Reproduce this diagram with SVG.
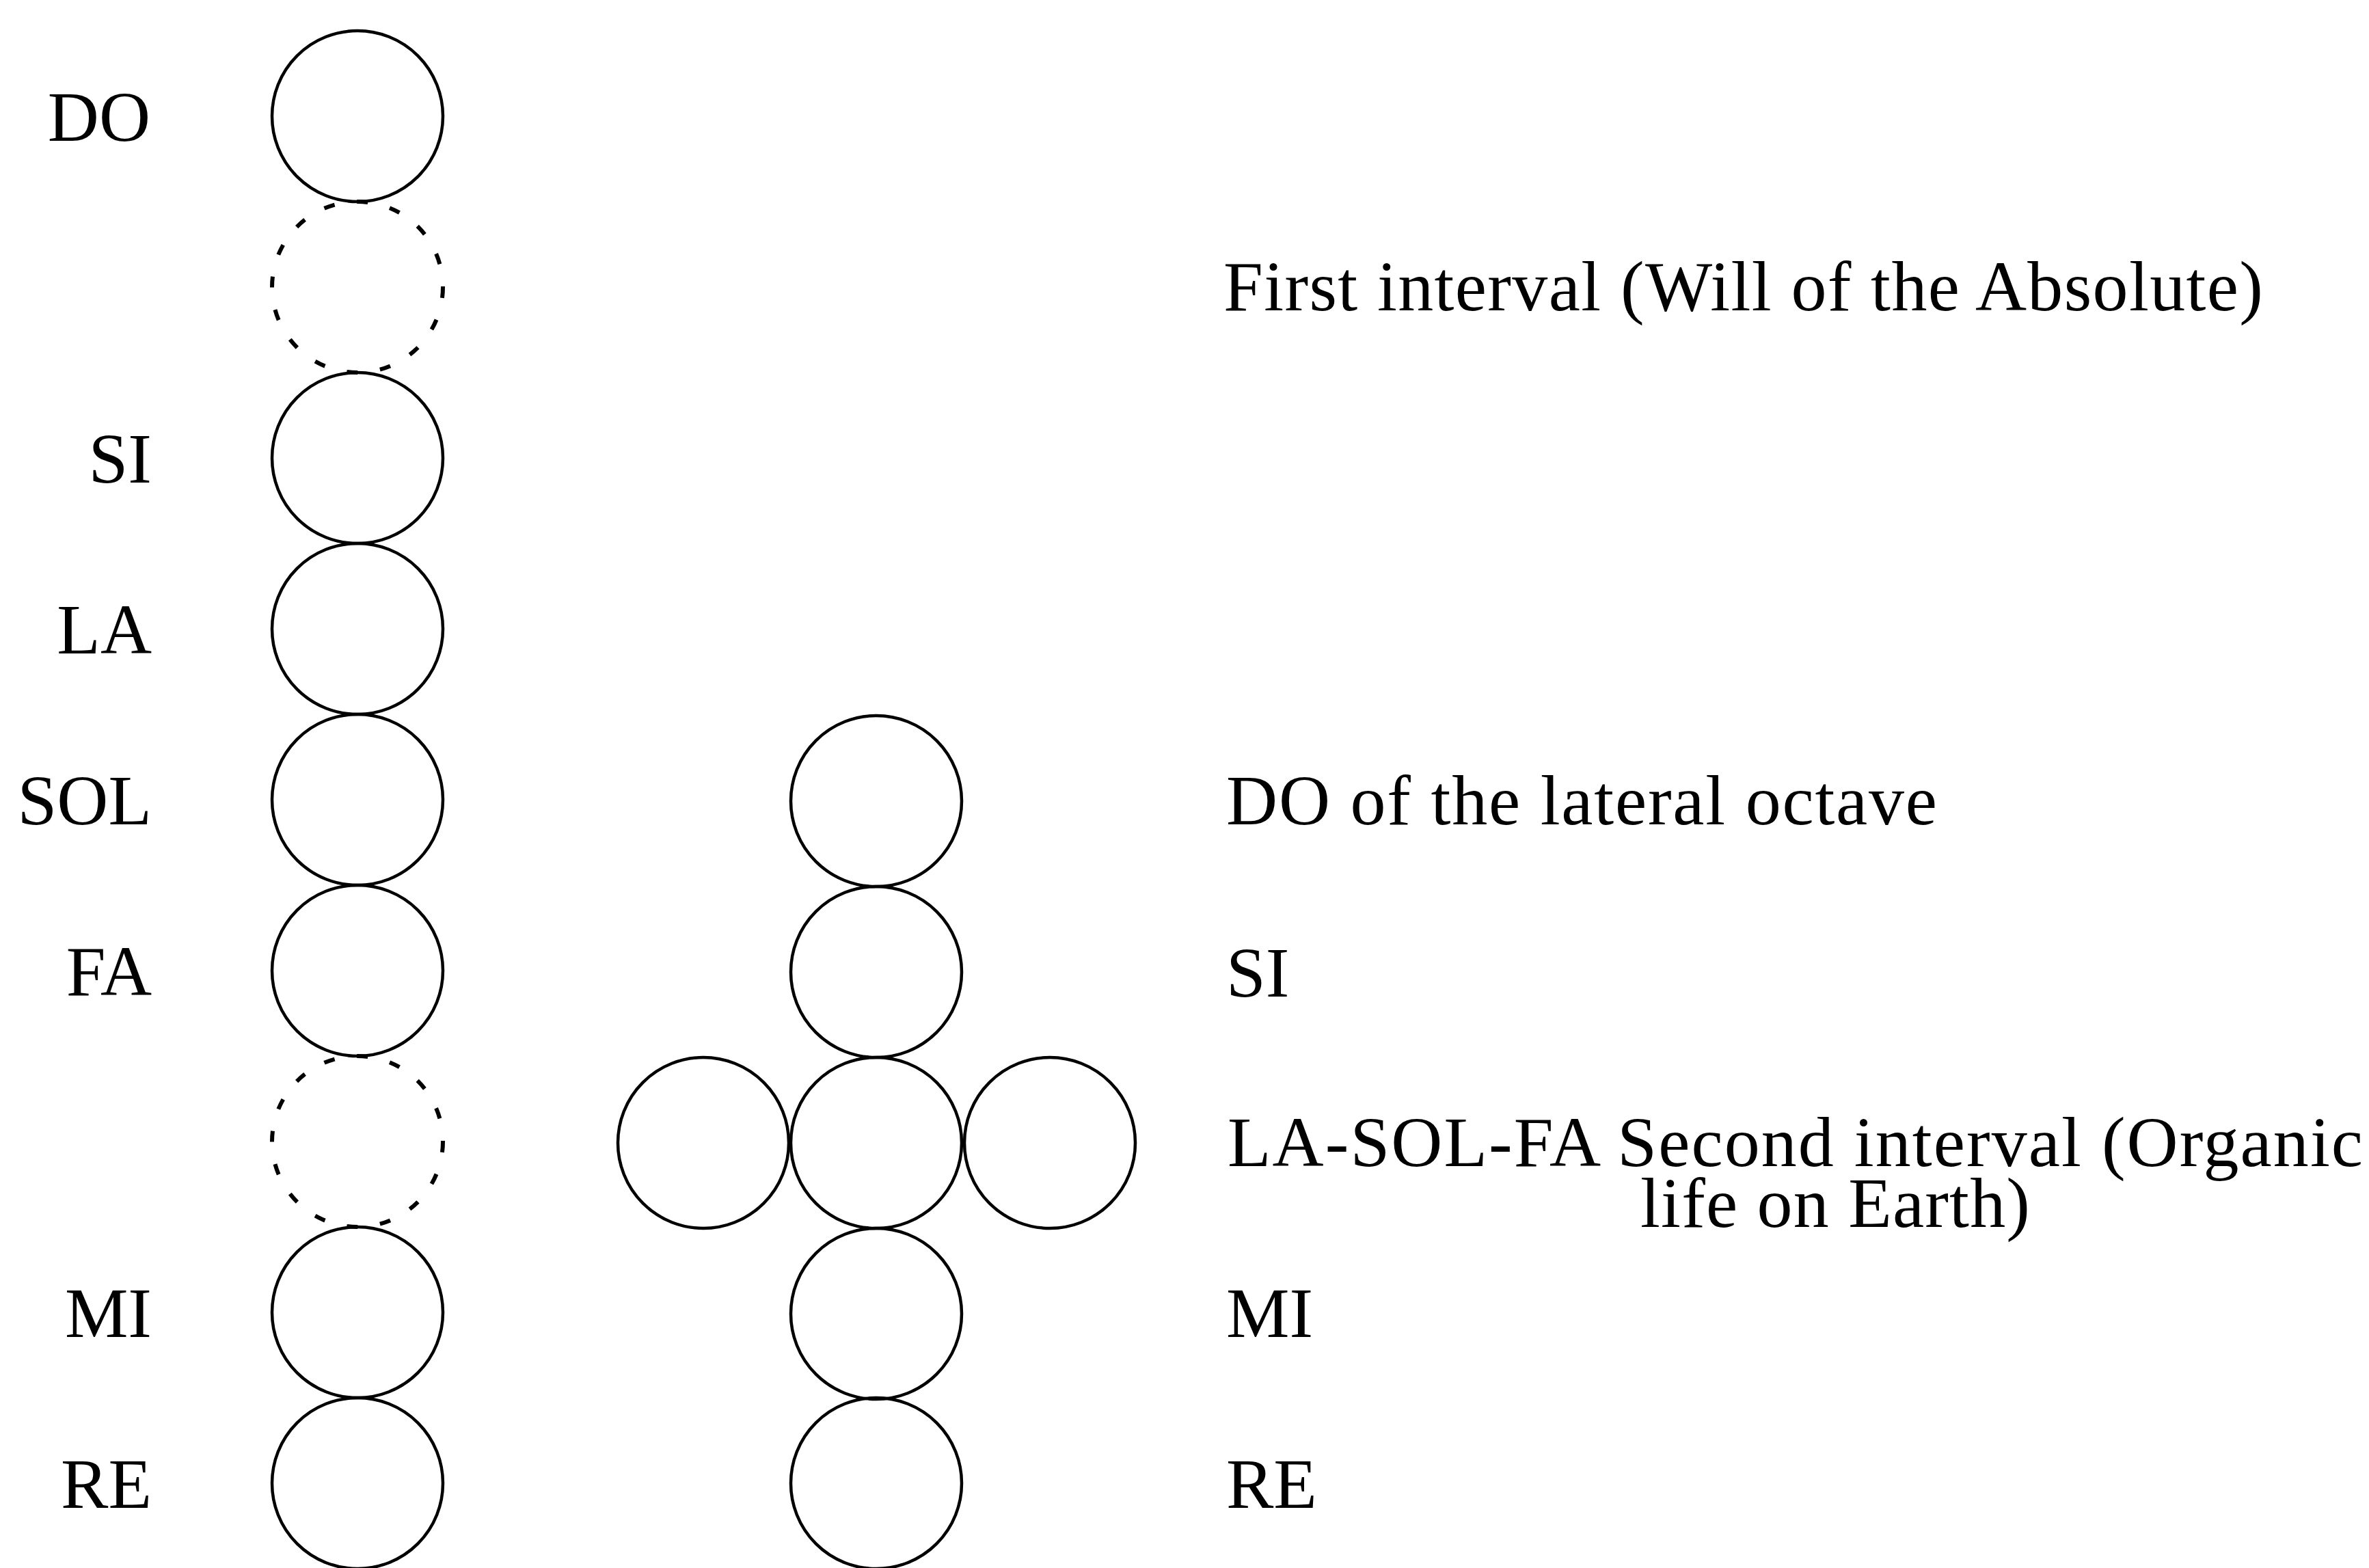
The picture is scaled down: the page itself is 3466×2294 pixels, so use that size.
<svg xmlns="http://www.w3.org/2000/svg" width="3466" height="2294" viewBox="0 0 3466 2294">
<style>
.c{fill:none;stroke:#000;stroke-width:4.5}
.d{fill:none;stroke:#000;stroke-width:6;stroke-dasharray:16 33}
text{font-family:"Liberation Serif","Times New Roman",serif;font-size:104px;fill:#000}
.l{text-anchor:end}
</style>
<rect width="3466" height="2294" fill="#fff"/>
<g id="left-octave">
<g id="n-do"><circle class="c" cx="523" cy="170" r="125"/><text class="l" x="220" y="206">DO</text></g>
<g id="n-interval1"><circle class="d" cx="523" cy="420" r="125"/></g>
<g id="n-si"><circle class="c" cx="523" cy="670" r="125"/><text class="l" x="222" y="706">SI</text></g>
<g id="n-la"><circle class="c" cx="523" cy="920" r="125"/><text class="l" x="222" y="956">LA</text></g>
<g id="n-sol"><circle class="c" cx="523" cy="1170" r="125"/><text class="l" x="222" y="1206">SOL</text></g>
<g id="n-fa"><circle class="c" cx="523" cy="1420" r="125"/><text class="l" x="222" y="1456">FA</text></g>
<g id="n-interval2"><circle class="d" cx="523" cy="1670" r="125"/></g>
<g id="n-mi"><circle class="c" cx="523" cy="1920" r="125"/><text class="l" x="222" y="1956">MI</text></g>
<g id="n-re"><circle class="c" cx="523" cy="2170" r="125"/><text class="l" x="222" y="2206">RE</text></g>
</g>
<g id="lateral-octave">
<g id="m-do"><circle class="c" cx="1282" cy="1172" r="125"/></g>
<g id="m-si"><circle class="c" cx="1282" cy="1422" r="125"/></g>
<g id="m-la"><circle class="c" cx="1029" cy="1672" r="125"/></g>
<g id="m-sol"><circle class="c" cx="1282" cy="1672" r="125"/></g>
<g id="m-fa"><circle class="c" cx="1536" cy="1672" r="125"/></g>
<g id="m-mi"><circle class="c" cx="1282" cy="1922" r="125"/></g>
<g id="m-re"><circle class="c" cx="1282" cy="2170" r="125"/></g>
</g>
<g id="labels">
<text x="1790" y="454" textLength="1521" lengthAdjust="spacing">First interval (Will of the Absolute)</text>
<text x="1794" y="1206" textLength="1040" lengthAdjust="spacing">DO of the lateral octave</text>
<text x="1794" y="1458">SI</text>
<text x="1796" y="1706" textLength="1661" lengthAdjust="spacing">LA-SOL-FA Second interval (Organic</text>
<text x="2400" y="1795" textLength="570" lengthAdjust="spacing">life on Earth)</text>
<text x="1794" y="1956">MI</text>
<text x="1794" y="2206">RE</text>
</g>
<g id="connectors"/>
</svg>
